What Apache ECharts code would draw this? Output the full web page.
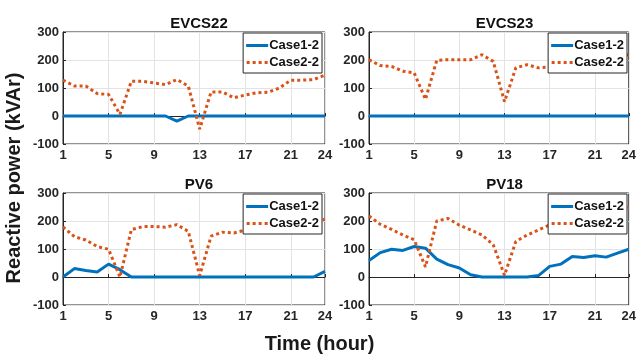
<!DOCTYPE html>
<html>
<head>
<meta charset="utf-8">
<script src="https://cdn.jsdelivr.net/npm/echarts@6/dist/echarts.min.js"></script>
<style>
html,body{margin:0;padding:0;background:#fff;}
#c{width:639px;height:356px;}
</style>
</head>
<body>
<div id="c"></div>
<script>
var hours = [1,2,3,4,5,6,7,8,9,10,11,12,13,14,15,16,17,18,19,20,21,22,23,24];
var xTicks = [1,5,9,13,17,21,24];
var yTicks = [-100,0,100,200,300];
var seriesNames = ['Case1-2','Case2-2'];
var panelTitles = ['EVCS22','EVCS23','PV6','PV18'];

var evcs22Case1 = [0,0,0,0,0,0,0,0,0,0,-18,0,0,0,0,0,0,0,0,0,0,0,0,0];
var evcs22Case2 = [128,107,107,80,77,6,124,124,118,112,130,107,-47,86,86,65,75,83,85,100,128,128,130,146];
var evcs23Case1 = [0,0,0,0,0,0,0,0,0,0,0,0,0,0,0,0,0,0,0,0,0,0,0,0];
var evcs23Case2 = [201,180,177,160,154,59,199,201,201,201,219,195,51,172,183,172,175,182,190,198,205,210,215,219];
var pv6Case1 = [0,30,23,18,46,26,0,0,0,0,0,0,0,0,0,0,0,0,0,0,0,0,0,20];
var pv6Case2 = [179,144,132,109,99,0,169,180,180,178,187,163,5,146,160,157,168,174,180,186,192,197,201,205];
var pv18Case1 = [59,87,99,95,109,103,64,44,32,8,0,0,0,0,0,5,38,46,73,70,76,71,85,99];
var pv18Case2 = [218,188,170,150,133,36,200,209,185,168,150,115,6,127,150,168,186,198,208,218,226,234,240,247];

var panelData = [
  [evcs22Case1, evcs22Case2],
  [evcs23Case1, evcs23Case2],
  [pv6Case1, pv6Case2],
  [pv18Case1, pv18Case2]
];

var FONT = '"Liberation Sans", Arial, Helvetica, sans-serif';
var AX = '#262626';
var BLUE = '#0072BD';
var ORANGE = '#D95319';
var SOLID_ICON = 'path://M0,0h22v3h-22z';
var DOT_ICON = 'path://M0,0h3v3h-3z M6,0h3v3h-3z M12,0h3v3h-3z M18,0h3v3h-3z';

var gridBoxes = [
  {left:63, top:32, width:262, height:112},
  {left:369, top:32, width:261, height:112},
  {left:63, top:193, width:262, height:112},
  {left:369, top:193, width:261, height:112}
];

function pairs(arr){ return hours.map(function(h,i){ return [h, arr[i]]; }); }

var grids = [], xAxes = [], yAxes = [], series = [], titles = [], legends = [];
gridBoxes.forEach(function(g, i){
  grids.push({left:g.left, top:g.top, width:g.width, height:g.height, show:true, borderColor:AX, borderWidth:1, backgroundColor:'transparent'});
  xAxes.push({
    type:'value', gridIndex:i, min:1, max:24, interval:4,
    axisLine:{show:true, lineStyle:{color:AX, width:1}},
    axisTick:{show:true, inside:true, length:3, lineStyle:{color:AX}},
    axisLabel:{color:AX, fontFamily:FONT, fontWeight:'bold', fontSize:13, margin:5, showMinLabel:true, showMaxLabel:true},
    splitLine:{show:true, lineStyle:{color:'#e3e3e3', width:1}}
  });
  yAxes.push({
    type:'value', gridIndex:i, min:-100, max:300, interval:100,
    axisLine:{show:true, lineStyle:{color:AX, width:1}},
    axisTick:{show:true, inside:true, length:3, lineStyle:{color:AX}},
    axisLabel:{color:AX, fontFamily:FONT, fontWeight:'bold', fontSize:13, margin:4},
    splitLine:{show:true, lineStyle:{color:'#e3e3e3', width:1}}
  });
  series.push({
    name:seriesNames[0], type:'line', xAxisIndex:i, yAxisIndex:i, data:pairs(panelData[i][0]),
    showSymbol:false, symbol:'none', z:2,
    lineStyle:{color:BLUE, width:3}, itemStyle:{color:BLUE}
  });
  series.push({
    name:seriesNames[1], type:'line', xAxisIndex:i, yAxisIndex:i, data:pairs(panelData[i][1]),
    showSymbol:false, symbol:'none', z:3,
    lineStyle:{color:ORANGE, width:3, type:[3,3]}, itemStyle:{color:ORANGE}
  });
  titles.push({
    text:panelTitles[i], left:g.left + g.width/2, top:g.top - 21, textAlign:'center',
    textStyle:{fontFamily:FONT, fontWeight:'bold', fontSize:15, color:'#111'}
  });
  legends.push({
    data:[
      {name:seriesNames[0], icon:SOLID_ICON, itemStyle:{color:BLUE}},
      {name:seriesNames[1], icon:DOT_ICON, itemStyle:{color:ORANGE}}
    ],
    orient:'vertical', z:20,
    right:639 - (g.left + g.width) + 3, top:g.top + 1,
    backgroundColor:'#fff', borderColor:AX, borderWidth:1, padding:[6,3,4,3],
    itemWidth:22, itemHeight:3, itemGap:4,
    selectedMode:false,
    textStyle:{fontFamily:FONT, fontWeight:'bold', fontSize:13, color:'#111', padding:[0,0,0,-4]}
  });
});

var chart = echarts.init(document.getElementById('c'), null, {renderer:'canvas'});
chart.setOption({
  animation:false,
  backgroundColor:'#fff',
  title:titles,
  legend:legends,
  grid:grids,
  xAxis:xAxes,
  yAxis:yAxes,
  series:series,
  graphic:[
    {type:'text', left:'center', top:334, style:{text:'Time (hour)', font:'bold 20px ' + FONT, fill:'#1a1a1a'}},
    {type:'text', x:14, y:178, rotation:Math.PI/2, style:{text:'Reactive power (kVAr)', font:'bold 20px ' + FONT, fill:'#1a1a1a', align:'center', verticalAlign:'middle'}}
  ]
});
</script>
</body>
</html>
